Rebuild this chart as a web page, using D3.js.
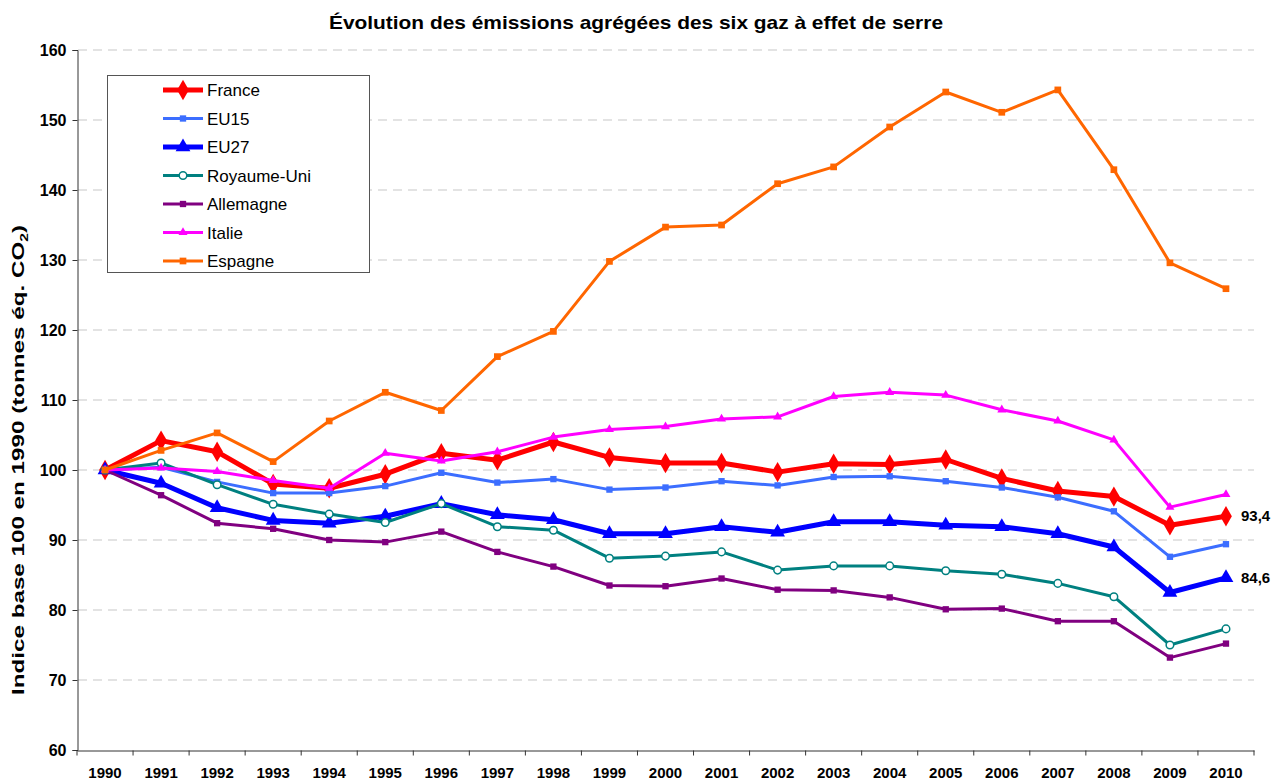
<!DOCTYPE html>
<html>
<head>
<meta charset="utf-8">
<script src="https://cdnjs.cloudflare.com/ajax/libs/d3/7.8.5/d3.min.js"></script>
<style>
  body { margin: 0; padding: 0; background: #fff; }
  text { font-family: Arial, "Liberation Sans", sans-serif; }
</style>
</head>
<body>
<svg width="1273" height="782"></svg>
<script>
// years on the x axis
const years = d3.range(1990, 2011).map(String);
const yTicks = [60, 70, 80, 90, 100, 110, 120, 130, 140, 150, 160];

// index base 100 in 1990
const france     = [100, 104.2, 102.6, 98.0, 97.4, 99.4, 102.4, 101.4, 104.0, 101.8, 101.0, 101.0, 99.7, 100.9, 100.8, 101.5, 98.8, 97.0, 96.2, 92.1, 93.4];
const eu15       = [100, 100.4, 98.3, 96.7, 96.7, 97.7, 99.6, 98.2, 98.7, 97.2, 97.5, 98.4, 97.8, 99.0, 99.1, 98.4, 97.5, 96.1, 94.1, 87.6, 89.4];
const eu27       = [100, 98.1, 94.6, 92.8, 92.4, 93.4, 95.2, 93.6, 92.9, 90.9, 90.9, 91.9, 91.1, 92.6, 92.6, 92.1, 91.9, 90.9, 89.0, 82.5, 84.6];
const royaumeUni = [100, 101.0, 97.9, 95.1, 93.7, 92.5, 95.2, 91.9, 91.4, 87.4, 87.7, 88.3, 85.7, 86.3, 86.3, 85.6, 85.1, 83.8, 81.9, 75.0, 77.3];
const allemagne  = [100, 96.4, 92.4, 91.6, 90.0, 89.7, 91.2, 88.3, 86.2, 83.5, 83.4, 84.5, 82.9, 82.8, 81.8, 80.1, 80.2, 78.4, 78.4, 73.2, 75.2];
const italie     = [100, 100.3, 99.8, 98.5, 97.4, 102.4, 101.3, 102.6, 104.7, 105.8, 106.2, 107.3, 107.6, 110.5, 111.1, 110.7, 108.6, 107.0, 104.3, 94.7, 96.5];
const espagne    = [100, 102.8, 105.3, 101.2, 107.0, 111.1, 108.5, 116.2, 119.8, 129.8, 134.7, 135.0, 140.9, 143.3, 149.0, 154.0, 151.1, 154.3, 142.9, 129.6, 125.9];

const seriesNames = ["France", "EU15", "EU27", "Royaume-Uni", "Allemagne", "Italie", "Espagne"];
const seriesValues = [france, eu15, eu27, royaumeUni, allemagne, italie, espagne];
const endLabels = { "France": "93,4", "EU27": "84,6" };

// look of each series
const styles = {
  "France":      { color: "#FF0000", width: 5,   symbol: d3.symbolDiamond,  size: 120, fill: "#FF0000" },
  "EU15":        { color: "#3C6EFF", width: 3,   symbol: d3.symbolSquare,   size: 40,  fill: "#3C6EFF" },
  "EU27":        { color: "#0000FF", width: 5,   symbol: d3.symbolTriangle, size: 95,  fill: "#0000FF" },
  "Royaume-Uni": { color: "#008080", width: 3,   symbol: d3.symbolCircle,   size: 45,  fill: "#ffffff" },
  "Allemagne":   { color: "#800080", width: 3,   symbol: d3.symbolSquare,   size: 40,  fill: "#800080" },
  "Italie":      { color: "#FF00FF", width: 3,   symbol: d3.symbolTriangle, size: 35,  fill: "#FF00FF" },
  "Espagne":     { color: "#FF6600", width: 3,   symbol: d3.symbolSquare,   size: 45,  fill: "#FF6600" }
};

const svg = d3.select("svg");
const margin = { top: 50, right: 19, bottom: 32, left: 77 };
const width = 1273, height = 782;

const x = d3.scaleBand().domain(years).range([margin.left, width - margin.right]);
const xc = d => x(d) + x.bandwidth() / 2;
const y = d3.scaleLinear().domain([60, 160]).range([height - margin.bottom, margin.top]);

// title
svg.append("text")
  .attr("x", 636).attr("y", 29)
  .attr("text-anchor", "middle")
  .attr("textLength", 614).attr("lengthAdjust", "spacingAndGlyphs")
  .style("font-size", "19px").style("font-weight", "bold")
  .text("Évolution des émissions agrégées des six gaz à effet de serre");

// gridlines
svg.append("g").selectAll("line").data(yTicks.filter(t => t > 60))
  .enter().append("line")
  .attr("x1", margin.left + 1).attr("x2", width - margin.right)
  .attr("y1", d => y(d)).attr("y2", d => y(d))
  .attr("stroke", "#c8c8c8").attr("stroke-width", 1.2)
  .attr("stroke-dasharray", "9,6");

// y axis
const yAxis = svg.append("g")
  .attr("transform", `translate(${margin.left + 0.5},0)`)
  .call(d3.axisLeft(y).tickValues(yTicks).tickSize(5).tickPadding(6));
yAxis.select(".domain").attr("stroke", "#333");
yAxis.selectAll(".tick line").attr("stroke", "#333");
yAxis.selectAll("text").style("font-size", "16px").style("font-weight", "bold").attr("fill", "#000");

// x axis: labels centred, ticks between categories
const xAxis = svg.append("g")
  .attr("transform", `translate(0,${y(60) + 0.5})`)
  .call(d3.axisBottom(x).tickSize(0).tickPadding(17));
xAxis.select(".domain").attr("stroke", "#333");
xAxis.selectAll("text").style("font-size", "15px").style("font-weight", "bold").attr("fill", "#000");
xAxis.selectAll("line.sep").data(years.concat(["end"]))
  .enter().append("line").attr("class", "sep")
  .attr("x1", d => d === "end" ? x.range()[1] : x(d))
  .attr("x2", d => d === "end" ? x.range()[1] : x(d))
  .attr("y1", 0).attr("y2", 5)
  .attr("stroke", "#333");

// y axis title
svg.append("text")
  .attr("transform", "translate(24,460) rotate(-90)")
  .attr("text-anchor", "middle")
  .attr("textLength", 470).attr("lengthAdjust", "spacingAndGlyphs")
  .style("font-size", "17px").style("font-weight", "bold")
  .html("Indice base 100 en 1990 (tonnes éq. CO<tspan dy='4' font-size='11px'>2</tspan><tspan dy='-4'>)</tspan>");

// series
const line = d3.line().x((d, i) => xc(years[i])).y(d => y(d));
seriesNames.forEach((name, k) => {
  const st = styles[name];
  const vals = seriesValues[k];
  const g = svg.append("g");
  g.append("path").datum(vals)
    .attr("d", line)
    .attr("fill", "none")
    .attr("stroke", st.color)
    .attr("stroke-width", st.width)
    .attr("stroke-linejoin", "round");
  g.selectAll("path.m").data(vals).enter().append("path").attr("class", "m")
    .attr("d", d3.symbol().type(st.symbol).size(st.size))
    .attr("transform", (d, i) => `translate(${xc(years[i])},${y(d)})`)
    .attr("fill", st.fill)
    .attr("stroke", st.color)
    .attr("stroke-width", name === "Royaume-Uni" ? 1.5 : 0);
  if (endLabels[name]) {
    g.append("text")
      .attr("x", xc(years[years.length - 1]) + 15)
      .attr("y", y(vals[vals.length - 1]) + 5)
      .style("font-size", "15px").style("font-weight", "bold")
      .text(endLabels[name]);
  }
});

// legend
const legend = svg.append("g");
legend.append("rect")
  .attr("x", 107.5).attr("y", 75.5).attr("width", 262).attr("height", 197)
  .attr("fill", "#fff").attr("stroke", "#555").attr("stroke-width", 1);
seriesNames.forEach((name, i) => {
  const st = styles[name];
  const cy = 90 + i * 28.5;
  legend.append("line")
    .attr("x1", 163).attr("x2", 203).attr("y1", cy).attr("y2", cy)
    .attr("stroke", st.color).attr("stroke-width", st.width);
  legend.append("path")
    .attr("d", d3.symbol().type(st.symbol).size(st.size))
    .attr("transform", `translate(183,${cy})`)
    .attr("fill", st.fill).attr("stroke", st.color)
    .attr("stroke-width", name === "Royaume-Uni" ? 1.5 : 0);
  legend.append("text")
    .attr("x", 207).attr("y", cy + 6)
    .style("font-size", "17px")
    .text(name);
});
</script>
</body>
</html>
